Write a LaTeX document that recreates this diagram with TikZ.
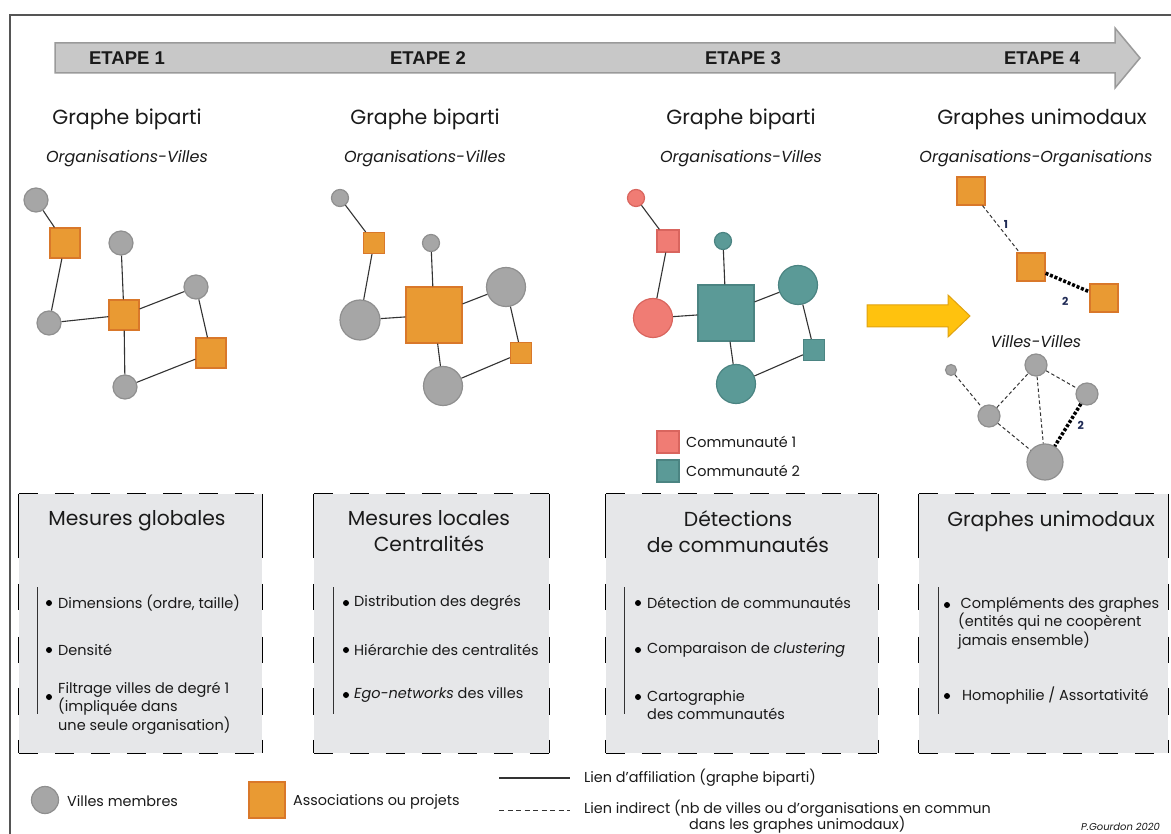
\documentclass[tikz,border=0pt]{standalone}
\usepackage{fontspec}
\setmainfont{Poppins}
\newfontfamily\etfont{Liberation Sans}
\definecolor{orgf}{HTML}{E99A33}
\definecolor{orgb}{HTML}{D9782A}
\definecolor{cityf}{HTML}{A6A6A6}
\definecolor{cityb}{HTML}{8F8F8F}
\definecolor{pinkf}{HTML}{F07C74}
\definecolor{pinkb}{HTML}{D9655E}
\definecolor{tealf}{HTML}{5B9A97}
\definecolor{tealb}{HTML}{4B8482}
\definecolor{boxf}{HTML}{E6E7E9}
\definecolor{arrf}{HTML}{C8C8C8}
\definecolor{arrb}{HTML}{9A9A9A}
\definecolor{yelf}{HTML}{FFC20E}
\definecolor{yelb}{HTML}{E0A210}
\definecolor{framec}{HTML}{555555}
\definecolor{edgec}{HTML}{333333}
\definecolor{txt}{HTML}{1A1A1A}
\definecolor{navy}{HTML}{1F2A55}
\tikzset{
  city/.style={circle, draw=cityb, fill=cityf, line width=1.2pt, inner sep=0pt, minimum size=#1},
  org/.style={rectangle, draw=orgb, fill=orgf, line width=1.2pt, inner sep=0pt, minimum size=#1},
  pcity/.style={circle, draw=pinkb, fill=pinkf, line width=1.2pt, inner sep=0pt, minimum size=#1},
  porg/.style={rectangle, draw=pinkb, fill=pinkf, line width=1.2pt, inner sep=0pt, minimum size=#1},
  tcity/.style={circle, draw=tealb, fill=tealf, line width=1.2pt, inner sep=0pt, minimum size=#1},
  torg/.style={rectangle, draw=tealb, fill=tealf, line width=1.2pt, inner sep=0pt, minimum size=#1},
  aff/.style={draw=edgec, line width=1.1pt},
  ind/.style={draw=edgec, line width=1pt, dash pattern=on 3.5pt off 2.5pt},
  strong/.style={draw=black, line width=3.5pt, dash pattern=on 3pt off 1.8pt},
  etape/.style={font=\etfont\bfseries\fontsize{18.5}{20}\selectfont, text=txt, inner sep=0pt},
  gtitle/.style={font=\fontsize{20.5}{24}\selectfont, text=txt, inner sep=0pt},
  gsub/.style={font=\itshape\fontsize{16}{19}\selectfont, text=txt, inner sep=0pt},
  boxst/.style={fill=boxf, inner sep=0pt},
  hdash/.style={draw=black, line width=1.1pt, dash pattern=on 19pt off 17pt},
  vdash/.style={draw=black, line width=1.1pt, dash pattern=on 64pt off 26pt on 26pt off 27pt on 26pt off 25pt on 27pt off 25pt on 30pt off 10pt},
  btitle/.style={font=\fontsize{20.3}{26}\selectfont, text=txt, align=center, inner sep=0pt},
  item/.style={font=\fontsize{14.5}{18.6}\selectfont, text=txt, anchor=west, align=left, inner sep=0pt},
  leg/.style={font=\fontsize{14.4}{19}\selectfont, text=txt, anchor=west, align=left, inner sep=0pt},
  elab/.style={font=\bfseries\fontsize{11}{12}\selectfont, text=navy, inner sep=0pt},
}
\newcommand{\mydashedborder}[1]{%
  \draw[hdash] (#1.north west) -- (#1.north east);
  \draw[hdash] (#1.south west) -- (#1.south east);
  \draw[vdash] (#1.north west) -- (#1.south west);
  \draw[vdash] (#1.north east) -- (#1.south east);}
\begin{document}
\begin{tikzpicture}[x=1pt,y=-1pt]
\useasboundingbox (0,0) rectangle (1171,834);
\fill[white] (0,0) rectangle (1171,834);
% frame
\draw[framec, line width=2pt] (10,850) -- (10,15) -- (1185,15);
% top arrow
\draw[fill=arrf, draw=arrb, line width=1.5pt] (55,43) -- (1115,43) -- (1115,28) -- (1140,58) -- (1115,88) -- (1115,73) -- (55,73) -- cycle;
\node[etape] (e1) at (127,58) {ETAPE 1};
\node[etape] (e2) at (428,58) {ETAPE 2};
\node[etape] (e3) at (743,58) {ETAPE 3};
\node[etape] (e4) at (1042,58) {ETAPE 4};
% titles
\node[gtitle] (t1) at (127,119) {Graphe biparti};
\node[gsub] (u1) at (127,159) {Organisations-Villes};
\node[gtitle] (t2) at (425,119) {Graphe biparti};
\node[gsub] (u2) at (425,159) {Organisations-Villes};
\node[gtitle] (t3) at (741,119) {Graphe biparti};
\node[gsub] (u3) at (741,159) {Organisations-Villes};
\node[gtitle] (t4) at (1042,119) {Graphes unimodaux};
\node[gsub] (u4) at (1036,159) {Organisations-Organisations};
% graph 1
\node[city=24pt] (c1a) at (36,200) {};
\node[org=30pt] (s1a) at (65,243) {};
\node[city=24pt] (c1b) at (121,243) {};
\node[city=24pt] (c1c) at (49,323) {};
\node[org=30pt] (s1b) at (124,315) {};
\node[city=24pt] (c1d) at (196,287) {};
\node[org=30pt] (s1c) at (211,353) {};
\node[city=24pt] (c1e) at (125,387) {};
\draw[aff] (c1a) -- (s1a);
\draw[aff] (s1a) -- (c1c);
\draw[aff] (c1c) -- (s1b);
\draw[aff] (s1b) -- (c1b);
\draw[aff] (s1b) -- (c1d);
\draw[aff] (s1b) -- (c1e);
\draw[aff] (c1d) -- (s1c);
\draw[aff] (s1c) -- (c1e);
% graph 2
\node[city=17pt] (c2a) at (340,198) {};
\node[org=21pt] (s2a) at (374,243) {};
\node[city=17pt] (c2b) at (431,243) {};
\node[city=40pt] (c2c) at (360,320) {};
\node[org=56pt] (s2b) at (434,315) {};
\node[city=39pt] (c2d) at (506,287) {};
\node[org=21pt] (s2c) at (521,353) {};
\node[city=39pt] (c2e) at (443,386) {};
\draw[aff] (c2a) -- (s2a);
\draw[aff] (s2a) -- (c2c);
\draw[aff] (c2c) -- (s2b);
\draw[aff] (s2b) -- (c2b);
\draw[aff] (s2b) -- (c2d);
\draw[aff] (s2b) -- (c2e);
\draw[aff] (c2d) -- (s2c);
\draw[aff] (s2c) -- (c2e);
% graph 3
\node[pcity=17pt] (c3a) at (636,198) {};
\node[porg=22pt] (s3a) at (668,241) {};
\node[tcity=17pt] (c3b) at (723,241) {};
\node[pcity=39pt] (c3c) at (653,318) {};
\node[torg=56pt] (s3b) at (726,313) {};
\node[tcity=39pt] (c3d) at (798,285) {};
\node[torg=21pt] (s3c) at (814,350) {};
\node[tcity=39pt] (c3e) at (736,384) {};
\draw[aff] (c3a) -- (s3a);
\draw[aff] (s3a) -- (c3c);
\draw[aff] (c3c) -- (s3b);
\draw[aff] (s3b) -- (c3b);
\draw[aff] (s3b) -- (c3d);
\draw[aff] (s3b) -- (c3e);
\draw[aff] (c3d) -- (s3c);
\draw[aff] (s3c) -- (c3e);
% community legend
\node[porg=22pt] (k1) at (668,442) {};
\node[torg=22pt] (k2) at (668,471) {};
\node[leg] (k1t) at (686,442) {Communauté 1};
\node[leg] (k2t) at (686,471) {Communauté 2};
% yellow arrow
\draw[fill=yelf, draw=yelb, line width=1pt] (867,305) -- (948,305) -- (948,295) -- (970,316) -- (948,337) -- (948,327) -- (867,327) -- cycle;
% graph 4: organisations
\node[org=28pt] (s4a) at (971,191) {};
\node[org=28pt] (s4b) at (1031,267) {};
\node[org=28pt] (s4c) at (1104,298) {};
\draw[ind] (s4a) -- (s4b) node[elab, pos=0.4, right=6pt] {1};
\draw[strong] (s4b) -- (s4c) node[elab, pos=0.45, below=14pt] {2};
% villes-villes
\node[gsub] (vv) at (1036,341) {Villes-Villes};
\node[city=11pt] (v1) at (951,370) {};
\node[city=22pt] (v2) at (1036,365) {};
\node[city=22pt] (v3) at (1087,394) {};
\node[city=22pt] (v4) at (989,416) {};
\node[city=36pt] (v5) at (1045,462) {};
\draw[ind] (v1) -- (v4);
\draw[ind] (v4) -- (v2);
\draw[ind] (v2) -- (v3);
\draw[ind] (v2) -- (v5);
\draw[ind] (v4) -- (v5);
\draw[strong] (v3) -- (v5) node[elab, pos=0.5, right=8pt] {2};
% boxes
\node[boxst, minimum width=243pt, minimum height=259pt] (b1) at (140.5,623.5) {};
\node[boxst, minimum width=235pt, minimum height=259pt] (b2) at (431.5,623.5) {};
\node[boxst, minimum width=272pt, minimum height=259pt] (b3) at (742,623.5) {};
\node[boxst, minimum width=249pt, minimum height=259pt] (b4) at (1043.5,623.5) {};
\mydashedborder{b1}
\mydashedborder{b2}
\mydashedborder{b3}
\mydashedborder{b4}
\node[btitle] (bt1) at (137,521) {Mesures globales};
\node[btitle] (bt2) at (429,531) {Mesures locales\\Centralités};
\node[btitle] (bt3) at (738,532) {Détections\\de communautés};
\node[btitle] (bt4) at (1051,521) {Graphes unimodaux};
% box 1 items
\draw[edgec, line width=1pt] (37,587) -- (37,714);
\fill[black] (49,603) circle (3pt);
\fill[black] (49,650) circle (3pt);
\fill[black] (49,697) circle (3pt);
\node[item] (i11) at (58,603) {Dimensions (ordre, taille)};
\node[item] (i12) at (58,650) {Densité};
\node[item] (i13) at (58,708) {Filtrage villes de degré 1\\(impliquée dans\\une seule organisation)};
% box 2 items
\draw[edgec, line width=1pt] (333,587) -- (333,714);
\fill[black] (346,603) circle (3pt);
\fill[black] (346,650) circle (3pt);
\fill[black] (346,695) circle (3pt);
\node[item] (i21) at (354,603) {Distribution des degrés};
\node[item] (i22) at (354,650) {Hiérarchie des centralités};
\node[item] (i23) at (354,695) {\textit{Ego-networks} des villes};
% box 3 items
\draw[edgec, line width=1pt] (624,587) -- (624,714);
\fill[black] (638,603) circle (3pt);
\fill[black] (638,650) circle (3pt);
\fill[black] (638,697) circle (3pt);
\node[item] (i31) at (647,603) {Détection de communautés};
\node[item] (i32) at (647,650) {Comparaison de \textit{clustering}};
\node[item] (i33) at (647,705) {Cartographie\\des communautés};
% box 4 items
\draw[edgec, line width=1pt] (938,587) -- (938,714);
\fill[black] (947,605) circle (3pt);
\fill[black] (947,696) circle (3pt);
\node[item] (i41) at (958,623) {\,Compléments des graphes\\(entités qui ne coopèrent\\jamais ensemble)};
\node[item] (i42) at (962,696) {Homophilie / Assortativité};
% bottom legend
\node[city=27pt] (lc) at (45,800) {};
\node[leg] (lct) at (67,801) {Villes membres};
\node[org=36pt] (lo) at (267,800) {};
\node[leg] (lot) at (293,802) {Associations ou projets};
\coordinate (la1) at (499,778);
\coordinate (la2) at (570,778);
\coordinate (lb1) at (499,810);
\coordinate (lb2) at (570,810);
\draw[aff] (la1) -- (la2);
\draw[edgec, line width=1pt, dash pattern=on 5pt off 3.5pt] (lb1) -- (lb2);
\node[leg] (lat) at (584,778) {Lien d'affiliation (graphe biparti)};
\node[leg] (lbt) at (584,809) {Lien indirect (nb de villes ou d'organisations en commun};
\node[leg] (lbt2) at (689,825) {dans les graphes unimodaux)};
\node[font=\itshape\fontsize{10}{12}\selectfont, text=txt, anchor=west, inner sep=0pt] (sig) at (1081,827) {P.Gourdon 2020};
\end{tikzpicture}
\end{document}
